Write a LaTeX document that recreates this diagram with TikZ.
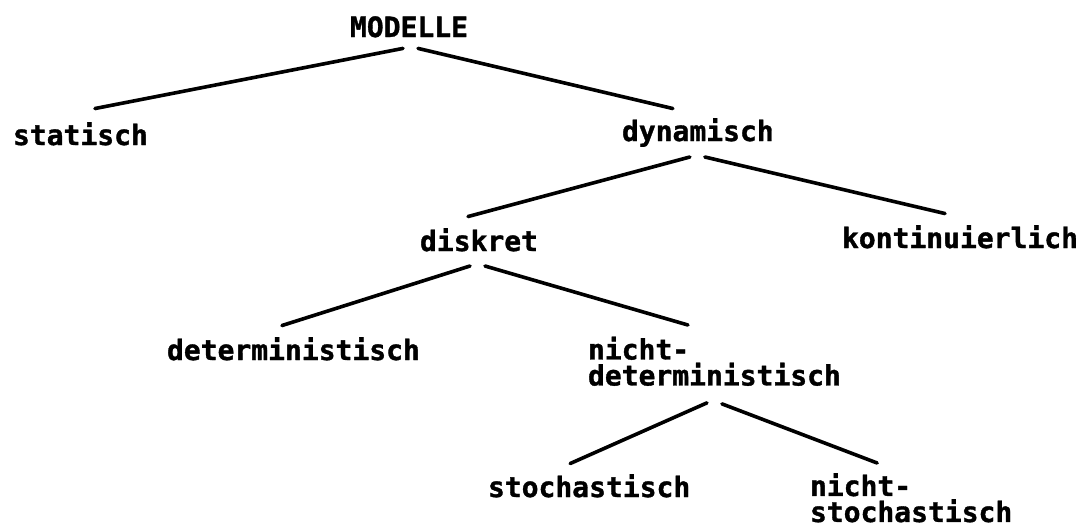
\documentclass[tikz,border=0pt]{standalone}
\usepackage{fontspec}
\newfontfamily\pixfont[FakeBold=1.2]{DejaVu Sans Mono}
\begin{document}
\begin{tikzpicture}[x=1pt,y=-1pt,
  lbl/.style={inner sep=0pt, outer sep=0pt, align=left,
    font=\pixfont\bfseries\fontsize{28}{26}\selectfont},
  edge/.style={line width=3.6pt, line cap=round}]
\useasboundingbox[fill=white] (0,0) rectangle (1083,528);

% labels of the model tree
\node[lbl, anchor=base west]  (m)   at (350,37)  {MODELLE};
\node[lbl, anchor=base west]  (st)  at (13,145)  {statisch};
\node[lbl, anchor=base west]  (dy)  at (622,141) {dynamisch};
\node[lbl, anchor=base west]  (di)  at (420,251) {diskret};
\node[lbl, anchor=base west]  (ko)  at (842,248) {kontinuierlich};
\node[lbl, anchor=base west]  (de)  at (167,360) {deterministisch};
\node[lbl, anchor=north west] (nd)  at (588,336.7) {nicht-\\deterministisch};
\node[lbl, anchor=base west]  (sto) at (488,497) {stochastisch};
\node[lbl, anchor=north west] (ns)  at (810,473.2) {nicht-\\stochastisch};

% branches
\draw[edge] ([shift={(-6,11)}]m.south)  -- ([shift={(14.5,-13.7)}]st.north);
\draw[edge] ([shift={(9,11)}]m.south)   -- ([shift={(-25,-9.7)}]dy.north);
\draw[edge] ([shift={(-8,16)}]dy.base)  -- ([shift={(-11,-11.7)}]di.north);
\draw[edge] ([shift={(7,16)}]dy.base)   -- ([shift={(-15,-11.7)}]ko.north);
\draw[edge] ([shift={(-9,15)}]di.base)  -- ([shift={(-11.5,-11.7)}]de.north);
\draw[edge] ([shift={(6,15)}]di.base)   -- ([shift={(-26.5,-11.7)}]nd.north);
\draw[edge] ([shift={(-7.5,17)}]nd.south) -- ([shift={(-19,-10.7)}]sto.north);
\draw[edge] ([shift={(7.5,18)}]nd.south)  -- ([shift={(-34,-10.2)}]ns.north);
\end{tikzpicture}
\end{document}
